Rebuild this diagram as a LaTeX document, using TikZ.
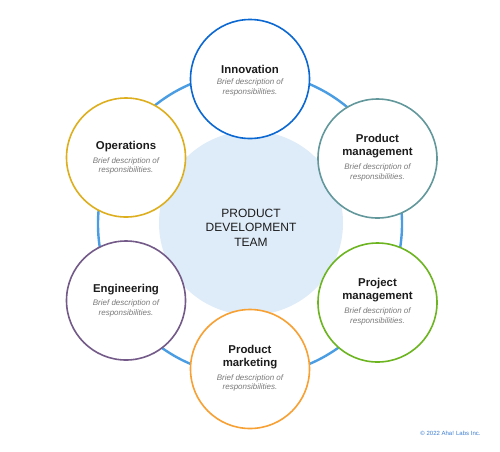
\documentclass[tikz,border=0pt]{standalone}
\usepackage{fontspec}
\setmainfont{Liberation Sans}
\definecolor{ringblue}{HTML}{4A9DE2}
\definecolor{corefill}{HTML}{DEEBF8}
\definecolor{cinno}{HTML}{0B67D1}
\definecolor{cpm}{HTML}{62989C}
\definecolor{cproj}{HTML}{6DB520}
\definecolor{cmkt}{HTML}{F7A033}
\definecolor{ceng}{HTML}{735A88}
\definecolor{cops}{HTML}{DDAF1E}
\definecolor{desctext}{HTML}{7A7A7A}
\definecolor{ink}{HTML}{1C1C1C}
\definecolor{copytext}{HTML}{3C7DD0}
\begin{document}
\begin{tikzpicture}[x=1pt,y=-1pt,
  member/.style={circle, draw=#1, line width=1.6pt, fill=white, minimum size=119pt, inner sep=0pt},
  ttl/.style={font=\fontsize{11.4}{13}\selectfont\bfseries, text=ink, align=center, inner sep=0pt},
  dsc/.style={font=\fontsize{8}{9.5}\selectfont\itshape, text=desctext, align=center, inner sep=0pt},
  ring/.style={draw=ringblue, line width=2.4pt},
  core/.style={circle, fill=corefill, minimum size=184pt, inner sep=0pt},
  coretext/.style={font=\fontsize{12}{14.5}\selectfont, text=ink, align=center, inner sep=0pt},
  copyright/.style={font=\fontsize{6}{7}\selectfont, text=copytext, inner sep=0pt}
]
\useasboundingbox (0,0) rectangle (500,451);
\fill[white] (0,0) rectangle (500,451);
\coordinate (hub) at (250,224);
\draw[ring] (hub) circle (152);
\node[core] (core) at (251,223) {};
\node[coretext] (coret) at (251,227.5) {PRODUCT\\DEVELOPMENT\\TEAM};

% Innovation
\node[member=cinno] (inno) at (250,79) {};
\node[ttl] (innot) at (250,69) {Innovation};
\node[dsc] (innod) at (250,87.5) {Brief description of\\responsibilities.};

% Product management
\node[member=cpm] (pm) at (377.5,158.5) {};
\node[ttl] (pmt) at (377.5,146.5) {Product\\management};
\node[dsc] (pmd) at (377.5,172.5) {Brief description of\\responsibilities.};

% Project management
\node[member=cproj] (proj) at (377.5,302.5) {};
\node[ttl] (projt) at (377.5,290.5) {Project\\management};
\node[dsc] (projd) at (377.5,316.5) {Brief description of\\responsibilities.};

% Product marketing
\node[member=cmkt] (mkt) at (250,369) {};
\node[ttl] (mktt) at (250,357) {Product\\marketing};
\node[dsc] (mktd) at (250,383) {Brief description of\\responsibilities.};

% Engineering
\node[member=ceng] (eng) at (126,300.5) {};
\node[ttl] (engt) at (126,290) {Engineering};
\node[dsc] (engd) at (126,308.5) {Brief description of\\responsibilities.};

% Operations
\node[member=cops] (ops) at (126,157.5) {};
\node[ttl] (opst) at (126,147) {Operations};
\node[dsc] (opsd) at (126,166) {Brief description of\\responsibilities.};

\node[copyright] (copy) at (450.5,433) {© 2022 Aha! Labs Inc.};
\end{tikzpicture}
\end{document}
